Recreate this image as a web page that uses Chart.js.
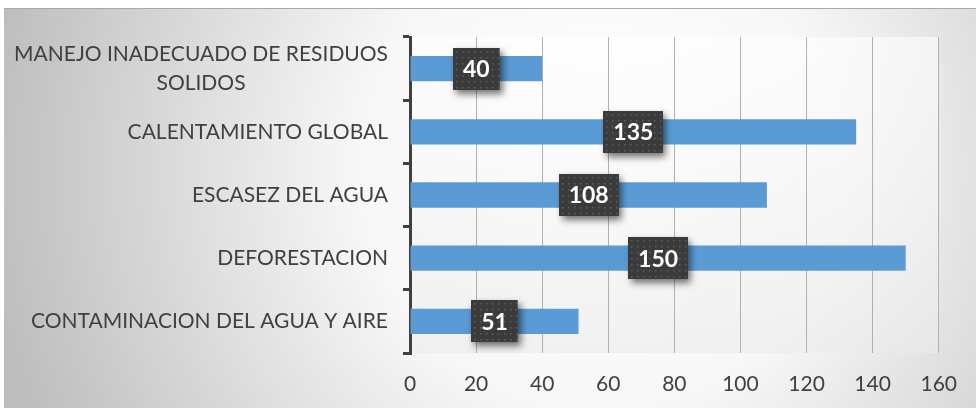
<!DOCTYPE html>
<html>
<head>
<meta charset="utf-8">
<script src="https://cdn.jsdelivr.net/npm/chart.js@4.4.1/dist/chart.umd.min.js"></script>
<style>
html,body{margin:0;padding:0;background:#fff;}
#wrap{width:976px;height:408px;position:relative;}
</style>
</head>
<body>
<div id="wrap"><canvas id="myChart"></canvas></div>
<script>
var categories = [
    ['MANEJO INADECUADO DE RESIDUOS', 'SOLIDOS'],
    ['CALENTAMIENTO GLOBAL'],
    ['ESCASEZ DEL AGUA'],
    ['DEFORESTACION'],
    ['CONTAMINACION DEL AGUA Y AIRE']
];
var values = [40, 135, 108, 150, 51];
var xTicks = [0, 20, 40, 60, 80, 100, 120, 140, 160];

var labelFont = '21px Lato, "Liberation Sans", sans-serif';
var textColor = '#404040';

// fondo degradado gris
var bgPlugin = {
    id: 'bg',
    beforeDraw: function(chart){
        var c = chart.ctx, w = chart.width, h = chart.height;
        c.save();
        c.fillStyle = '#fff';
        c.fillRect(0, 0, w, h);
        var g = c.createRadialGradient(600, 170, 40, 600, 170, 620);
        g.addColorStop(0, '#ffffff');
        g.addColorStop(0.35, '#f7f7f7');
        g.addColorStop(1, '#bdbdbd');
        c.fillStyle = g;
        c.fillRect(4, 8, w - 4, h - 8);
        c.fillStyle = '#a8a8a8';
        c.fillRect(4, 8, w - 4, 1);
        var a = chart.chartArea;
        var g2 = c.createLinearGradient(0, a.top, 0, a.bottom);
        g2.addColorStop(0, 'rgba(255,255,255,0.6)');
        g2.addColorStop(1, 'rgba(235,235,235,0.6)');
        c.fillStyle = g2;
        c.fillRect(a.left, a.top, a.right - a.left, a.bottom - a.top);
        c.restore();
    }
};

// etiquetas del eje y (bloque alineado a la derecha, lineas centradas)
var yLabelPlugin = {
    id: 'ylabels',
    afterDraw: function(chart){
        var c = chart.ctx, sc = chart.scales.y;
        c.save();
        c.font = labelFont;
        c.fillStyle = textColor;
        c.textBaseline = 'middle';
        c.textAlign = 'center';
        var right = 388, lh = 29;
        for (var i = 0; i < categories.length; i++) {
            var lines = categories[i];
            var wmax = 0;
            for (var j = 0; j < lines.length; j++) wmax = Math.max(wmax, c.measureText(lines[j]).width);
            var cx = right - wmax / 2;
            var y0 = sc.getPixelForValue(i) - (lines.length - 1) * lh / 2;
            for (var j = 0; j < lines.length; j++) c.fillText(lines[j], cx, y0 + j * lh);
        }
        c.restore();
    }
};

// cajas oscuras con el valor
var boxPlugin = {
    id: 'boxes',
    afterDatasetsDraw: function(chart){
        var c = chart.ctx;
        var meta = chart.getDatasetMeta(0);
        c.save();
        c.font = 'bold 23px Lato, "Liberation Sans", sans-serif';
        for (var i = 0; i < meta.data.length; i++) {
            var bar = meta.data[i];
            var txt = String(values[i]);
            var tw = c.measureText(txt).width;
            var bw = tw + 20, bh = 42;
            var cx = (bar.x + bar.base) / 2, cy = bar.y;
            var x0 = Math.round(cx - bw / 2), y0 = Math.round(cy - bh / 2);
            c.save();
            c.shadowColor = 'rgba(0,0,0,0.55)';
            c.shadowBlur = 7;
            c.shadowOffsetX = 3;
            c.shadowOffsetY = 4;
            c.fillStyle = '#3b3b3b';
            c.fillRect(x0, y0, bw, bh);
            c.restore();
            c.fillStyle = '#5e5e5e';
            for (var dx = x0 + 3; dx < x0 + bw - 1; dx += 6) {
                for (var dy = y0 + 3; dy < y0 + bh - 1; dy += 6) {
                    c.fillRect(dx, dy, 1.5, 1.5);
                }
            }
            c.fillStyle = '#ffffff';
            c.textAlign = 'center';
            c.textBaseline = 'middle';
            c.fillText(txt, cx, cy + 1);
        }
        c.restore();
    }
};

var ctx = document.getElementById('myChart').getContext('2d');
var myChart = new Chart(ctx, {
    type: 'bar',
    data: {
        labels: categories,
        datasets: [{
            data: values,
            backgroundColor: '#5b9bd5',
            borderWidth: 0,
            barPercentage: 0.4,
            categoryPercentage: 1
        }]
    },
    options: {
        indexAxis: 'y',
        responsive: true,
        maintainAspectRatio: false,
        animation: false,
        layout: { padding: { top: 37, right: 35, bottom: 0, left: 0 } },
        plugins: { legend: { display: false }, tooltip: { enabled: false } },
        scales: {
            x: {
                min: 0,
                max: 160,
                afterBuildTicks: function(axis){
                    axis.ticks = xTicks.map(function(v){ return { value: v }; });
                },
                afterFit: function(axis){ axis.height = 55; },
                grid: { color: '#b0b0b0', lineWidth: 1, drawTicks: false },
                border: { display: false },
                ticks: {
                    color: textColor,
                    font: { family: 'Lato, "Liberation Sans", sans-serif', size: 21 },
                    padding: 19
                }
            },
            y: {
                afterFit: function(axis){ axis.width = 410; },
                grid: {
                    drawOnChartArea: false,
                    drawTicks: true,
                    tickLength: 7,
                    color: '#404040',
                    lineWidth: 3
                },
                border: { display: true, color: '#404040', width: 3 },
                ticks: { display: false }
            }
        }
    },
    plugins: [bgPlugin, yLabelPlugin, boxPlugin]
});
</script>
</body>
</html>
